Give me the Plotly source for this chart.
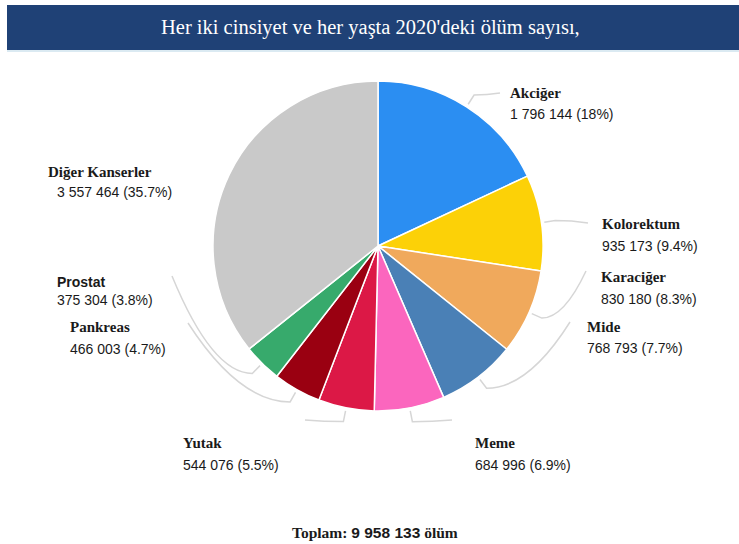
import math
import plotly.graph_objects as go

# Cancer deaths, both sexes, all ages, 2020
labels = ["Akciğer", "Kolorektum", "Karaciğer", "Mide", "Meme",
          "Yutak", "Pankreas", "Prostat", "Diğer Kanserler"]
values = [1796144, 935173, 830180, 768793, 684996,
          544076, 466003, 375304, 3557464]
colors = ["#2b8ef2", "#fcd107", "#f0a95c", "#4a80b6", "#fb66be",
          "#dc1846", "#9a0011", "#37aa6c", "#c9c9c9"]

title_text = "Her iki cinsiyet ve her yaşta 2020'deki ölüm sayısı,"

W, H = 739, 544
CX, CY, R = 378, 246, 165

SERIF = "Liberation Serif"
SANS = "Liberation Sans"
LINE_COLOR = "#d6d6d6"

# label text anchors (left edge, name line y, value line y) and leader-line end
label_layout = {
    "Akciğer":         dict(x=508, yn=93,  yv=114, end=(500, 93)),
    "Kolorektum":      dict(x=600, yn=224, yv=246, end=(588, 223)),
    "Karaciğer":       dict(x=599, yn=277, yv=299, end=(586, 271)),
    "Mide":            dict(x=585, yn=327, yv=348, end=(570, 322)),
    "Meme":            dict(x=473, yn=443, yv=465, end=(452, 420)),
    "Yutak":           dict(x=181, yn=443, yv=465, end=(305, 420)),
    "Pankreas":        dict(x=68,  yn=327, yv=349, end=(188, 323)),
    "Prostat":         dict(x=55,  yn=282, yv=300, end=(172, 276)),
    "Diğer Kanserler": dict(x=46,  yn=172, yv=192, end=None, vx=55),
}


def px(x):
    return x / W


def py(y):
    return 1 - y / H


def fmt_num(v):
    return f"{v:,}".replace(",", " ")


def fmt_pct(p):
    s = f"{p:.1f}"
    return s[:-2] if s.endswith(".0") else s


total = sum(values)

fig = go.Figure()
fig.add_trace(go.Pie(
    labels=labels,
    values=values,
    sort=False,
    direction="clockwise",
    rotation=0,
    textinfo="none",
    marker=dict(colors=colors, line=dict(color="white", width=1.5)),
    domain=dict(x=[px(CX - R), px(CX + R)], y=[py(CY + R), py(CY - R)]),
    showlegend=False,
    hovertemplate="%{label}: %{value}<extra></extra>",
))

shapes = []
annotations = []

# title banner
shapes.append(dict(type="rect", xref="paper", yref="paper",
                   x0=px(7), x1=1, y0=py(50), y1=py(5),
                   fillcolor="#1f4176", line=dict(width=0), layer="below"))
shapes.append(dict(type="line", xref="paper", yref="paper",
                   x0=px(7), x1=1, y0=py(51), y1=py(51),
                   line=dict(color="#cfe3ee", width=1.5)))
annotations.append(dict(text=title_text, xref="paper", yref="paper",
                        x=px(370), y=py(27), showarrow=False,
                        xanchor="center", yanchor="middle",
                        font=dict(family=SERIF, size=20.5, color="white")))

# leader lines and slice labels
cum = 0
for name, v in zip(labels, values):
    mid = (cum + v / 2) / total * 2 * math.pi
    cum += v
    lay = label_layout[name]
    if lay["end"] is not None:
        sx, sy = CX + (R + 3) * math.sin(mid), CY - (R + 3) * math.cos(mid)
        ex_, ey_ = CX + (R + 14) * math.sin(mid), CY - (R + 14) * math.cos(mid)
        tx, ty = lay["end"]
        path = (f"M {px(sx)},{py(sy)} L {px(ex_)},{py(ey_)} "
                f"Q {px(ex_ + (tx - ex_) * 0.5)},{py(ey_)} {px(tx)},{py(ty)}")
        shapes.append(dict(type="path", xref="paper", yref="paper", path=path,
                           line=dict(color=LINE_COLOR, width=1.5)))
    pct = v / total * 100
    name_font = dict(family=SANS if name == "Prostat" else SERIF,
                     size=14 if name == "Prostat" else 15, color="#1a1a1a")
    annotations.append(dict(text=f"<b>{name}</b>", xref="paper", yref="paper",
                            x=px(lay["x"]), y=py(lay["yn"]), showarrow=False,
                            xanchor="left", yanchor="middle", font=name_font))
    annotations.append(dict(text=f"{fmt_num(v)} ({fmt_pct(pct)}%)",
                            xref="paper", yref="paper",
                            x=px(lay.get("vx", lay["x"])), y=py(lay["yv"]),
                            showarrow=False, xanchor="left", yanchor="middle",
                            font=dict(family=SANS, size=14, color="#1a1a1a")))

# total
annotations.append(dict(
    text=(f"<b>Toplam: </b><span style='font-family:{SANS}'><b>{fmt_num(total)}</b></span>"
          f"<b> ölüm</b>"),
    xref="paper", yref="paper", x=px(375), y=py(532), showarrow=False,
    xanchor="center", yanchor="middle",
    font=dict(family=SERIF, size=15.5, color="#1a1a1a")))

fig.update_layout(
    width=W, height=H,
    margin=dict(l=0, r=0, t=0, b=0),
    paper_bgcolor="white", plot_bgcolor="white",
    shapes=shapes, annotations=annotations,
)

fig.write_html("out.html")
